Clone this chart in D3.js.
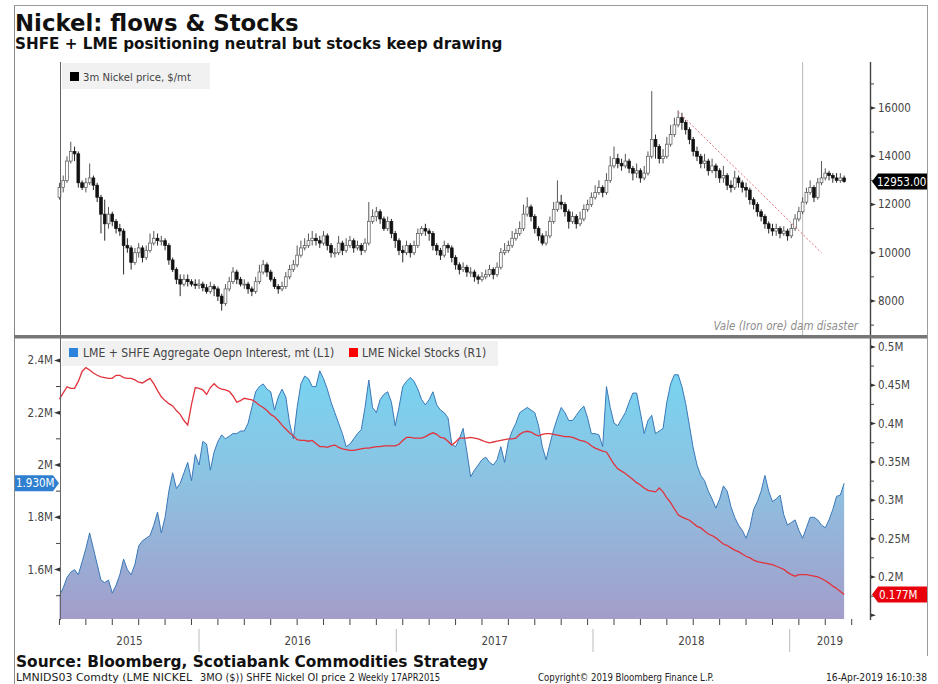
<!DOCTYPE html>
<html><head><meta charset="utf-8">
<script src="https://cdn.jsdelivr.net/npm/d3@7"></script>
<style>
body{margin:0;background:#fff;}
svg{display:block;}
.ax{font-family:"DejaVu Sans Condensed","DejaVu Sans",sans-serif;font-stretch:condensed;font-size:11.5px;fill:#444;}
</style></head><body>
<svg id="c" width="938" height="684"></svg>
<script>
// ---------------- DATA ----------------
const startDate = "2015-04-17"; // first weekly bar
const priceOpen = [12300,12700,13000,13800,14200,14100,12900,12700,12900,13100,
12800,12300,11600,11200,11600,11300,11000,10900,10300,10200,
9600,10000,10200,9800,10100,10400,10600,10500,10500,10300,
9700,9300,8900,8700,8900,8800,8700,8650,8700,8550,
8400,8600,8500,8200,7900,8500,8800,9200,8900,8700,
8700,8500,8400,8800,9200,9500,9200,8900,8600,8500,
8600,9000,9300,9500,9900,10200,10300,10500,10600,10500,
10400,10700,10300,10000,10000,10400,10100,10300,10500,10200,
10300,10100,10400,11300,11500,11700,11400,11000,11300,10800,
10500,10100,10000,10300,10000,10300,10800,11000,10900,10800,
10300,10100,9900,10300,10200,9800,9500,9300,9400,9200,
9200,9000,8900,9000,9100,9300,9100,9400,10000,10100,
10300,10600,10800,11000,11600,11900,11500,11000,10700,10400,
10700,11300,11800,12100,12000,11700,11300,11500,11200,11400,
11800,12000,12300,12500,12700,12500,13000,13600,13900,13700,
13600,13800,13500,13300,13400,13100,13300,14000,14700,14400,
13900,14000,14500,14900,15300,15600,15400,15100,14700,14200,
14000,13700,13800,13400,13600,13400,13100,13200,12800,12700,
13100,12900,12700,12600,12200,12000,11700,11500,11200,11000,
10900,11000,10800,10900,10700,11000,11400,11700,12100,12500,
12700,12300,12900,13100,13300,13200,13100,13000,13100];
const priceHigh = [12900,13200,14000,14600,14400,14200,13000,13100,13700,13200,
12900,12400,12200,11900,11700,11400,11200,11000,10600,10300,
10200,10400,10300,10300,10800,10900,10800,10700,10600,10400,
9800,9400,9100,9100,9100,8900,8900,8900,8800,8700,
8800,8700,8600,8300,8700,9000,9400,9300,9000,8900,
8800,8600,9000,9500,9700,9600,9300,9000,8700,8800,
9200,9500,9700,10300,10500,10600,10800,10900,10800,10700,
10900,10800,10400,10200,10700,10500,10600,10700,10600,10500,
10400,10600,12100,11800,11900,11800,11500,11500,11400,10900,
10600,10300,10500,10400,10500,11000,11100,11200,11000,10900,
10400,10200,10500,10400,10300,9900,9600,9600,9500,9400,
9300,9100,9200,9300,9500,9400,9600,10200,10400,10500,
10900,11000,11300,12000,12300,12000,11600,11100,10800,10900,
11500,12100,13000,12400,12100,11800,11700,11600,11700,12000,
12200,12500,12800,13000,12800,13300,14000,14400,14100,13900,
14100,13900,13600,13700,13500,13600,14200,16700,14900,14500,
14300,14800,15300,15600,15900,15800,15500,15200,14800,14400,
14100,14100,13900,13900,13700,13500,13600,13300,13000,13400,
13200,13000,12900,12700,12300,12100,11800,11600,11300,11200,
11200,11100,11100,11000,11200,11600,11900,12300,12700,13000,
12800,13100,13800,13500,13400,13300,13300,13300,13200];
const priceLow = [12200,12500,12900,13700,13800,12700,12600,12500,12800,12600,
12100,10800,10500,11000,11100,10800,10700,9100,10000,9300,
9500,9800,9600,9700,10000,10300,10300,10300,10100,9500,
9200,8700,8200,8600,8600,8600,8500,8500,8400,8300,
8300,8200,8000,7600,7800,8400,8700,8700,8600,8500,
8300,8200,8300,8700,9100,9000,8800,8500,8300,8400,
8500,8900,9200,9400,9800,10100,10200,10300,10300,10200,
10300,10100,9800,9800,9900,9900,10000,10200,10000,10100,
9900,10000,10300,11200,11300,11200,10900,10900,10600,10200,
9900,9600,9900,9800,9900,10200,10700,10700,10500,10100,
9900,9700,9800,10000,9600,9300,9100,9200,9000,9000,
8800,8700,8800,8900,9000,8900,9000,9300,9900,10000,
10200,10500,10700,10900,11500,11300,10800,10500,10300,10300,
10600,11200,11700,11800,11500,11000,11200,11000,11100,11300,
11700,11900,12200,12400,12300,12400,12900,13500,13500,13400,
13500,13300,13000,13100,12900,13000,13200,13900,13900,13700,
13700,13900,14400,14800,15200,15100,14900,14500,14000,13800,
13500,13500,13200,13300,13100,12900,12900,12600,12500,12600,
12700,12500,12300,12000,11800,11500,11300,11000,10800,10700,
10700,10600,10700,10500,10600,10900,11300,11600,12000,12400,
12100,12200,12800,13000,13000,12900,12900,12900,12900];
const priceClose = [12700,13000,13800,14200,14100,12900,12700,12900,13100,12800,
12300,11600,11200,11600,11300,11000,10900,10300,10200,9600,
10000,10200,9800,10100,10400,10600,10500,10500,10300,9700,
9300,8900,8700,8900,8800,8700,8650,8700,8550,8400,
8600,8500,8200,7900,8500,8800,9200,8900,8700,8700,
8500,8400,8800,9200,9500,9200,8900,8600,8500,8600,
9000,9300,9500,9900,10200,10300,10500,10600,10500,10400,
10700,10300,10000,10000,10400,10100,10300,10500,10200,10300,
10100,10400,11300,11500,11700,11400,11000,11300,10800,10500,
10100,10000,10300,10000,10300,10800,11000,10900,10800,10300,
10100,9900,10300,10200,9800,9500,9300,9400,9200,9200,
9000,8900,9000,9100,9300,9100,9400,10000,10100,10300,
10600,10800,11000,11600,11900,11500,11000,10700,10400,10700,
11300,11800,12100,12000,11700,11300,11500,11200,11400,11800,
12000,12300,12500,12700,12500,13000,13600,13900,13700,13600,
13800,13500,13300,13400,13100,13300,14000,14700,14400,13900,
14000,14500,14900,15300,15600,15400,15100,14700,14200,14000,
13700,13800,13400,13600,13400,13100,13200,12800,12700,13100,
12900,12700,12600,12200,12000,11700,11500,11200,11000,10900,
11000,10800,10900,10700,11000,11400,11700,12100,12500,12700,
12300,12900,13100,13300,13200,13100,13000,13100,12953];
// LME + SHFE aggregate open interest, million t (L1)
const openInterest = [1.50,1.53,1.57,1.59,1.60,1.58,1.63,1.68,1.74,1.68,
1.62,1.56,1.55,1.56,1.51,1.54,1.58,1.64,1.60,1.58,
1.62,1.69,1.71,1.72,1.73,1.77,1.82,1.74,1.80,1.90,
1.97,1.91,1.93,1.97,2.01,1.94,2.04,2.00,2.09,2.08,
1.98,2.05,2.09,2.115,2.10,2.11,2.12,2.12,2.13,2.13,
2.16,2.22,2.28,2.30,2.31,2.29,2.28,2.21,2.26,2.29,
2.26,2.16,2.10,2.22,2.31,2.34,2.33,2.30,2.30,2.36,
2.33,2.29,2.24,2.20,2.16,2.12,2.07,2.08,2.10,2.12,
2.135,2.22,2.325,2.22,2.20,2.25,2.27,2.28,2.24,2.15,
2.22,2.30,2.32,2.335,2.32,2.29,2.25,2.23,2.25,2.28,
2.23,2.21,2.20,2.18,2.08,2.07,2.10,2.14,2.05,1.955,
1.98,2.00,2.02,2.03,2.01,2.00,2.02,2.07,2.01,2.09,
2.13,2.16,2.20,2.21,2.22,2.21,2.20,2.15,2.07,2.02,
2.08,2.135,2.18,2.22,2.20,2.17,2.17,2.19,2.21,2.225,
2.18,2.12,2.12,2.115,2.07,2.30,2.22,2.16,2.15,2.175,
2.20,2.24,2.275,2.275,2.20,2.12,2.17,2.19,2.12,2.13,
2.14,2.24,2.31,2.345,2.345,2.30,2.235,2.15,2.065,2.00,
1.96,1.94,1.90,1.87,1.835,1.87,1.92,1.90,1.84,1.80,
1.77,1.75,1.72,1.76,1.83,1.86,1.90,1.96,1.90,1.86,
1.87,1.885,1.81,1.77,1.78,1.79,1.75,1.72,1.76,1.80,
1.80,1.79,1.77,1.76,1.79,1.83,1.88,1.885,1.93];
// LME nickel stocks, million t (R1)
const lmeStocks = [0.432,0.440,0.448,0.446,0.446,0.455,0.468,0.473,0.470,0.466,
0.463,0.461,0.460,0.459,0.459,0.463,0.463,0.460,0.459,0.459,
0.457,0.454,0.453,0.456,0.459,0.452,0.443,0.435,0.430,0.426,
0.423,0.417,0.412,0.404,0.398,0.425,0.447,0.446,0.444,0.438,
0.447,0.452,0.447,0.445,0.444,0.442,0.436,0.428,0.430,0.433,
0.432,0.431,0.428,0.424,0.421,0.417,0.412,0.409,0.404,0.398,
0.393,0.388,0.384,0.379,0.378,0.378,0.377,0.378,0.374,0.370,
0.370,0.369,0.371,0.372,0.369,0.367,0.366,0.365,0.365,0.366,
0.367,0.368,0.368,0.369,0.370,0.370,0.371,0.371,0.371,0.371,
0.373,0.378,0.382,0.382,0.381,0.381,0.381,0.383,0.386,0.388,
0.386,0.382,0.381,0.377,0.372,0.376,0.381,0.381,0.381,0.382,
0.381,0.380,0.378,0.376,0.375,0.376,0.377,0.378,0.379,0.380,
0.380,0.381,0.386,0.389,0.390,0.389,0.386,0.384,0.386,0.387,
0.387,0.386,0.385,0.384,0.383,0.383,0.382,0.380,0.378,0.377,
0.375,0.371,0.368,0.366,0.364,0.363,0.355,0.347,0.341,0.338,
0.335,0.331,0.327,0.323,0.320,0.316,0.313,0.312,0.311,0.316,
0.311,0.303,0.297,0.289,0.281,0.278,0.276,0.274,0.270,0.266,
0.264,0.260,0.256,0.254,0.251,0.247,0.243,0.241,0.238,0.235,
0.233,0.230,0.227,0.225,0.222,0.220,0.219,0.218,0.217,0.216,
0.214,0.212,0.210,0.206,0.203,0.201,0.203,0.203,0.203,0.202,
0.201,0.200,0.198,0.195,0.192,0.188,0.185,0.181,0.177];

const priceTicks = [8000,10000,12000,14000,16000];
const priceMinorTicks = [7000,9000,11000,13000,15000,17000];
const oiTicks = [1.6,1.8,2.0,2.2,2.4];
const oiTickLabels = ["1.6M","1.8M","2M","2.2M","2.4M"];
const oiMinorTicks = [1.5,1.7,1.9,2.1,2.3];
const stockTicks = [0.15,0.2,0.25,0.3,0.35,0.4,0.45,0.5];
const stockTickLabels = ["","0.2M","0.25M","0.3M","0.35M","0.4M","0.45M","0.5M"];
const stockMinorTicks = [0.175,0.225,0.275,0.325,0.375,0.425,0.475];
const years = ["2015","2016","2017","2018","2019"];
const trendLine = [{date:"2018-06-08", price:15850},{date:"2019-03-01", price:10000}];
const eventDate = "2019-01-25";
const lastPriceLabel = "12953.00", lastOILabel = "1.930M", lastStockLabel = "0.177M";
const xDomain = ["2015-04-18","2019-05-30"];

// ---------------- CHART ----------------
const svg = d3.select("#c");
const parse = d3.utcParse("%Y-%m-%d");
const start = parse(startDate);
const dates = priceClose.map((d,i)=>d3.utcDay.offset(start, 7*i));

const L = 60, R = 870;
const topY0 = 335, topY1 = 62;
const botY0 = 619, botY1 = 340;
const x = d3.scaleUtc().domain(xDomain.map(parse)).range([L, R]);
const yP = d3.scaleLinear().domain([6590, 17907]).range([topY0, topY1]);
const yL = d3.scaleLinear().domain([1.411, 2.478]).range([botY0, botY1]);
const yR = d3.scaleLinear().domain([0.1452, 0.509]).range([botY0, botY1]);

const axFont = '"DejaVu Sans Condensed","DejaVu Sans",sans-serif';

// frame
svg.append("line").attr("x1",14.5).attr("x2",14.5).attr("y1",5).attr("y2",684).attr("stroke","#8a8a8a");
svg.append("line").attr("x1",14).attr("x2",927).attr("y1",5.5).attr("y2",5.5).attr("stroke","#9a9a9a");
svg.append("line").attr("x1",927.5).attr("x2",927.5).attr("y1",5).attr("y2",656).attr("stroke","#9a9a9a");

// titles
svg.append("text").attr("x",15).attr("y",31).text("Nickel: flows & Stocks")
  .attr("font-family","DejaVu Sans, Verdana, sans-serif").attr("font-weight","bold").attr("font-size",22.8).attr("fill","#111");
svg.append("text").attr("x",15).attr("y",49).text("SHFE + LME positioning neutral but stocks keep drawing")
  .attr("font-family","DejaVu Sans, Verdana, sans-serif").attr("font-weight","bold").attr("font-size",15.2).attr("fill","#111");

// ---- top panel ----
const topG = svg.append("g");
topG.append("line").attr("x1",x(parse(eventDate))).attr("x2",x(parse(eventDate)))
  .attr("y1",topY1).attr("y2",topY0).attr("stroke","#b8b8b8").attr("stroke-width",1);
topG.append("text").attr("x",858).attr("y",330).attr("text-anchor","end")
  .attr("font-family",axFont).attr("font-size",11.5).attr("font-style","italic").attr("fill","#8d8d8d")
  .text("Vale (Iron ore) dam disaster");

// candles
const candles = priceClose.map((c,i)=>({d:dates[i], o:priceOpen[i], h:priceHigh[i], l:priceLow[i], c}));
const cw = 2.8;
const cg = topG.append("g");
cg.selectAll("line.w").data(candles).join("line")
  .attr("x1",d=>x(d.d)).attr("x2",d=>x(d.d)).attr("y1",d=>yP(d.h)).attr("y2",d=>yP(d.l))
  .attr("stroke",d=>d.c<d.o?"#111":"#444").attr("stroke-width",0.9);
cg.selectAll("rect").data(candles).join("rect")
  .attr("x",d=>x(d.d)-cw/2).attr("width",cw)
  .attr("y",d=>yP(Math.max(d.o,d.c)))
  .attr("height",d=>Math.max(1,Math.abs(yP(d.o)-yP(d.c))))
  .attr("fill",d=>d.c<d.o?"#111":"#fff")
  .attr("stroke",d=>d.c<d.o?"#111":"#555").attr("stroke-width",0.7);

// trend line
topG.append("line")
  .attr("x1",x(parse(trendLine[0].date))).attr("y1",yP(trendLine[0].price))
  .attr("x2",x(parse(trendLine[1].date))).attr("y2",yP(trendLine[1].price))
  .attr("stroke","#e26a7a").attr("stroke-width",1).attr("stroke-dasharray","2,2");

// top legend
topG.append("rect").attr("x",62).attr("y",63).attr("width",148).attr("height",26).attr("fill","#f1f1f1");
topG.append("rect").attr("x",70).attr("y",72).attr("width",9).attr("height",9).attr("fill","#000");
topG.append("text").attr("x",83).attr("y",81).attr("class","ax").attr("fill","#333").style("font-size","11.2px").text("3m Nickel price, $/mt");

// right price axis ticks
priceTicks.forEach(v=>{
  const yy = yP(v);
  topG.append("path").attr("d",`M${R},${yy-2}L${R+6},${yy}L${R},${yy+2}Z`).attr("fill","#333");
  topG.append("text").attr("class","ax").attr("x",R+8).attr("y",yy+4).text(v);
});
priceMinorTicks.forEach(v=>{
  const yy = yP(v);
  topG.append("line").attr("x1",R).attr("x2",R+4).attr("y1",yy).attr("y2",yy).attr("stroke","#444");
});
{
  const yy = yP(priceClose[priceClose.length-1]);
  topG.append("path").attr("d",`M${R+2},${yy}L${R+8},${yy-8}L927,${yy-8}L927,${yy+8}L${R+8},${yy+8}Z`).attr("fill","#000");
  topG.append("text").attr("x",R+7).attr("y",yy+4).attr("font-family",axFont).attr("font-stretch","condensed")
    .attr("font-size",11.5).attr("fill","#fff").text(lastPriceLabel);
}

// ---- bottom panel ----
const botG = svg.append("g");
const defs = svg.append("defs");
const grad = defs.append("linearGradient").attr("id","oiGrad").attr("gradientUnits","userSpaceOnUse")
  .attr("x1",0).attr("x2",0).attr("y1",360).attr("y2",botY0);
grad.append("stop").attr("offset","0%").attr("stop-color","#74d6f3");
grad.append("stop").attr("offset","45%").attr("stop-color","#8cc3e2");
grad.append("stop").attr("offset","100%").attr("stop-color","#a39dca");

const oiData = openInterest.map((v,i)=>({d:dates[i], v}));
const stData = lmeStocks.map((v,i)=>({d:dates[i], v}));
botG.append("path").datum(oiData)
  .attr("d", d3.area().x(d=>x(d.d)).y0(botY0).y1(d=>yL(d.v)))
  .attr("fill","url(#oiGrad)");
botG.append("path").datum(oiData)
  .attr("d", d3.line().x(d=>x(d.d)).y(d=>yL(d.v)))
  .attr("fill","none").attr("stroke","#3a78b8").attr("stroke-width",1);
botG.append("path").datum(stData)
  .attr("d", d3.line().x(d=>x(d.d)).y(d=>yR(d.v)))
  .attr("fill","none").attr("stroke","#e2323c").attr("stroke-width",1.3);

// bottom legend
botG.append("rect").attr("x",62).attr("y",341).attr("width",436).attr("height",25).attr("fill","#f1f1f1");
botG.append("rect").attr("x",69).attr("y",348).attr("width",9).attr("height",9).attr("fill","#2b83dc");
botG.append("text").attr("class","ax").attr("fill","#333").style("font-size","12.1px").attr("x",83).attr("y",357).text("LME + SHFE Aggregate Oepn Interest, mt (L1)");
botG.append("rect").attr("x",349).attr("y",348).attr("width",9).attr("height",9).attr("fill","#f00");
botG.append("text").attr("class","ax").attr("fill","#333").style("font-size","12.1px").attr("x",362).attr("y",357).text("LME Nickel Stocks (R1)");

// left axis
oiTicks.forEach((v,i)=>{
  const yy = yL(v);
  botG.append("path").attr("d",`M${L},${yy-2}L${L-6},${yy}L${L},${yy+2}Z`).attr("fill","#333");
  botG.append("text").attr("class","ax").attr("x",L-7).attr("y",yy+4).attr("text-anchor","end").text(oiTickLabels[i]);
});
oiMinorTicks.forEach(v=>{
  const yy = yL(v);
  botG.append("line").attr("x1",L-4).attr("x2",L).attr("y1",yy).attr("y2",yy).attr("stroke","#444");
});
stockTicks.forEach((v,i)=>{
  const yy = yR(v);
  botG.append("path").attr("d",`M${R},${yy-2}L${R+6},${yy}L${R},${yy+2}Z`).attr("fill","#333");
  botG.append("text").attr("class","ax").attr("x",R+8).attr("y",yy+4).text(stockTickLabels[i]);
});
stockMinorTicks.forEach(v=>{
  const yy = yR(v);
  botG.append("line").attr("x1",R).attr("x2",R+4).attr("y1",yy).attr("y2",yy).attr("stroke","#444");
});
{
  const yy = yL(openInterest[openInterest.length-1]);
  botG.append("path").attr("d",`M15,${yy-8}L${L-7},${yy-8}L${L-1},${yy}L${L-7},${yy+8}L15,${yy+8}Z`).attr("fill","#2f7fd0");
  botG.append("text").attr("x",16).attr("y",yy+4).attr("font-family",axFont).attr("font-stretch","condensed")
    .attr("font-size",11.5).attr("fill","#fff").text(lastOILabel);
  const y2 = yR(lmeStocks[lmeStocks.length-1]);
  botG.append("path").attr("d",`M${R+2},${y2}L${R+8},${y2-8}L927,${y2-8}L927,${y2+8}L${R+8},${y2+8}Z`).attr("fill","#e8000b");
  botG.append("text").attr("x",R+9).attr("y",y2+4).attr("font-family",axFont).attr("font-stretch","condensed")
    .attr("font-size",11.5).attr("fill","#fff").text(lastStockLabel);
}

// axis lines
svg.append("line").attr("x1",L+0.5).attr("x2",L+0.5).attr("y1",topY1).attr("y2",botY0+1).attr("stroke","#666").attr("stroke-width",1);
svg.append("line").attr("x1",R+0.5).attr("x2",R+0.5).attr("y1",topY1).attr("y2",botY0+1).attr("stroke","#444").attr("stroke-width",1.4);
svg.append("rect").attr("x",14).attr("y",335).attr("width",913).attr("height",3.5).attr("fill","#777");

// x axis
const xTicks = d3.range(0, 31).map(k=>d3.utcDay.offset(start, 49*k)).filter(d=>x(d)<=R);
svg.selectAll("line.xt").data(xTicks).join("line")
  .attr("x1",d=>x(d)).attr("x2",d=>x(d)).attr("y1",botY0).attr("y2",botY0+6).attr("stroke","#444");
years.forEach(yr=>{
  const y0 = parse(yr+"-01-01"), y1 = parse((+yr+1)+"-01-01");
  const a = Math.max(L, x(y0)), b = Math.min(R, x(y1));
  svg.append("text").attr("class","ax").attr("x",(a+b)/2).attr("y",645).attr("text-anchor","middle").text(yr);
  if (x(y0) > L) svg.append("line").attr("x1",x(y0)).attr("x2",x(y0)).attr("y1",629).attr("y2",652).attr("stroke","#bbb");
});

// footer
svg.append("text").attr("x",16).attr("y",667).text("Source: Bloomberg, Scotiabank Commodities Strategy")
  .attr("font-family","DejaVu Sans, Verdana, sans-serif").attr("font-weight","bold").attr("font-size",15.4).attr("fill","#111");
const foot = [["LMNIDS03 Comdty (LME NICKEL",16,"start",176],["3MO ($)) SHFE Nickel OI price 2",200,"start",155],
  ["Weekly 17APR2015",358,"start",82],["Copyright\u00A9 2019 Bloomberg Finance L.P.",538,"start",176],["16-Apr-2019 16:10:38",927,"end",101]];
foot.forEach(f=>svg.append("text").attr("x",f[1]).attr("y",681).attr("text-anchor",f[2])
  .attr("font-family",axFont).attr("font-stretch","condensed").attr("font-size",10.5).attr("fill","#222")
  .attr("textLength",f[3]).attr("lengthAdjust","spacingAndGlyphs").text(f[0]));
</script>
</body></html>
